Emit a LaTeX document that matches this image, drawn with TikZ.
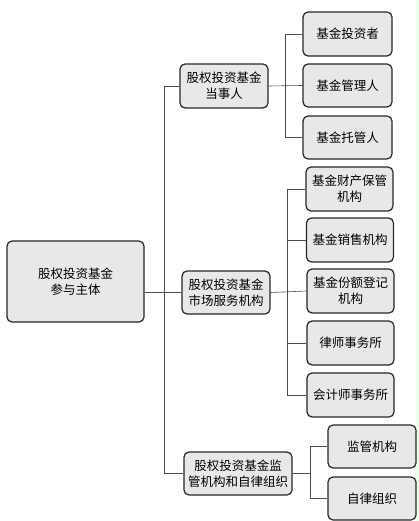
\documentclass[tikz,border=0pt]{standalone}
\usepackage{fontspec}
\setmainfont{Noto Sans CJK SC}
\begin{document}
\begin{tikzpicture}[x=1pt,y=-1pt,
  box/.style={draw=black!85, line width=1.2pt, rounded corners=5pt, fill=black!9,
    align=center, inner sep=0pt, font=\fontsize{12.5}{16}\selectfont},
  conn/.style={draw=black!70, line width=0.6pt}]
\useasboundingbox (0,0) rectangle (419,521);
\fill[green!8] (415.5,0) rectangle (419,521);
% left
\node[box, minimum width=137pt, minimum height=81pt] (L) at (75.5,281.5) {股权投资基金\\参与主体};
% middle
\node[box, minimum width=88pt, minimum height=44pt] (M1) at (224,86) {股权投资基金\\当事人};
\node[box, minimum width=88pt, minimum height=43pt] (M2) at (226,292.5) {股权投资基金\\市场服务机构};
\node[box, minimum width=108pt, minimum height=43pt] (M3) at (238,473.5) {股权投资基金监\\管机构和自律组织};
% group 1
\node[box, minimum width=89pt, minimum height=44pt] (A1) at (347.5,34) {基金投资者};
\node[box, minimum width=89pt, minimum height=43pt] (A2) at (347.5,85.5) {基金管理人};
\node[box, minimum width=89pt, minimum height=43pt] (A3) at (347.5,137.5) {基金托管人};
% group 2
\node[box, minimum width=87pt, minimum height=44pt] (B1) at (349.5,189) {基金财产保管\\机构};
\node[box, minimum width=87pt, minimum height=44pt] (B2) at (350,240) {基金销售机构};
\node[box, minimum width=87pt, minimum height=44pt] (B3) at (350.5,291) {基金份额登记\\机构};
\node[box, minimum width=87pt, minimum height=44pt] (B4) at (350.5,343) {律师事务所};
\node[box, minimum width=87pt, minimum height=44pt] (B5) at (350.5,395) {会计师事务所};
% group 3
\node[box, minimum width=88pt, minimum height=43pt] (C1) at (372,446.5) {监管机构};
\node[box, minimum width=88pt, minimum height=43pt] (C2) at (372,498.5) {自律组织};
% spine coordinates
\coordinate (s0) at (164.5,0);
\coordinate (s1) at (285,0);
\coordinate (s2) at (287,0);
\coordinate (s3) at (310,0);
% connectors level 1
\draw[conn] (L.east |- M2.west) -- (M2.west);
\draw[conn] (M1.west) -- (M1.west -| s0) -- (M3.west -| s0) -- (M3.west);
% group 1
\draw[conn] (M1.east) -- (A2.west);
\draw[conn] (A1.west) -- (A1.west -| s1) -- (A3.west -| s1) -- (A3.west);
% group 2
\draw[conn] (M2.east) -- (B3.west);
\draw[conn] (B1.west) -- (B1.west -| s2) -- (B5.west -| s2) -- (B5.west);
\draw[conn] (B2.west -| s2) -- (B2.west);
\draw[conn] (B4.west -| s2) -- (B4.west);
% group 3
\draw[conn] (M3.east) -- (M3.east -| s3);
\draw[conn] (C1.west) -- (C1.west -| s3) -- (C2.west -| s3) -- (C2.west);
\end{tikzpicture}
\end{document}
